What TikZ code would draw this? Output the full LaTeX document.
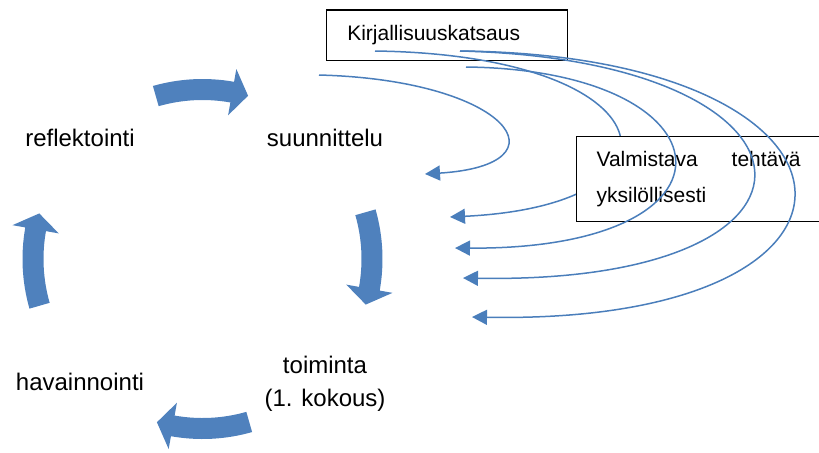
\documentclass[tikz,border=0pt]{standalone}
\usepackage{fontspec}
\setmainfont{Liberation Sans}
\usetikzlibrary{arrows.meta,calc}
\definecolor{CycBlue}{RGB}{79,129,189}
\definecolor{LinkBlue}{RGB}{74,126,187}

% one thick curved arrow of the cycle, around angle #1
\newcommand\cyclearrow[1]{%
  \pgfmathsetmacro\arrS{#1+16}%
  \pgfmathsetmacro\arrH{#1-10.1}%
  \pgfmathsetmacro\arrT{#1-15.6}%
  \fill[CycBlue] ($(cc)+(\arrS:180)$) arc[start angle=\arrS,end angle=\arrH,radius=180]
    -- ($(cc)+(\arrH:193)$) -- ($(cc)+(\arrT:169.5)$) -- ($(cc)+(\arrH:146)$)
    -- ($(cc)+(\arrH:159)$) arc[start angle=\arrH,end angle=\arrS,radius=159] -- cycle;}

\begin{document}
\begin{tikzpicture}[x=0.5pt,y=0.5pt,
    lbl/.style={font=\fontsize{12}{16.3}\selectfont,inner sep=0pt},
    txtbox/.style={draw=black,line width=0.6pt,fill=white,anchor=north west,inner ysep=0pt},
    link/.style={draw=LinkBlue,line width=0.75pt,-{Triangle[length=7.5pt,width=7.5pt]}}]
    \useasboundingbox (0,0) rectangle (819,-452);
    \coordinate (cc) at (202.5,-259);
    % cycle
    \foreach \c in {90,0,-90,180} {\cyclearrow{\c}}
    \node[lbl,anchor=base] (refl) at (80,-146) {reflektointi};
    \node[lbl,anchor=base] (suun) at (325,-146) {suunnittelu};
    \node[lbl,align=center] (toim) at (325,-384) {toiminta\\(1. kokous)};
    \node[lbl,anchor=base] (hava) at (80,-390) {havainnointi};
    % boxes and links
    \node[txtbox,font=\fontsize{10.5}{13}\selectfont,text width=99.5pt,inner xsep=10.5pt,minimum height=25.35pt,align=left] (kirj) at (325.7,-9.3) {Kirjallisuuskatsaus};
    \coordinate (s1) at (319,-75);
    \coordinate (s2) at (375,-51);
    \coordinate (s3) at (466,-67);
    \coordinate (s4) at (460,-51);
    \coordinate (e1) at (425,-174);
    \coordinate (e2) at (450,-217);
    \coordinate (e3) at (455,-248);
    \coordinate (e4) at (463,-278);
    \coordinate (e5) at (472,-317);
    \draw[link] (s1) .. controls (510,-80) and (570,-165) .. (e1);
    \draw[link] (s2) .. controls (670,-55) and (700,-205) .. (e2);
    \node[txtbox,font=\fontsize{10.5}{18.3}\selectfont,text width=102pt,inner xsep=10pt,minimum height=42.35pt,align=justify] (valm) at (576,-136) {Valmistava\hfill tehtävä\\yksilöllisesti};
    \draw[link] (s3) .. controls (735,-70) and (755,-250) .. (e3);
    \draw[link] (s4) .. controls (840,-60) and (860,-285) .. (e4);
    \draw[link] (s4) .. controls (892,-55) and (912,-325) .. (e5);
\end{tikzpicture}
\end{document}
